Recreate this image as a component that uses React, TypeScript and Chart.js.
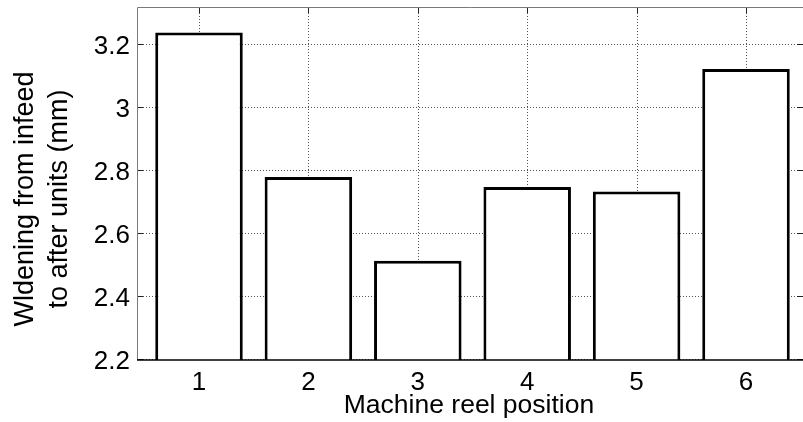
import React, { useEffect, useRef } from "react";
import { Chart, registerables } from "chart.js";

Chart.register(...registerables);

// Machine reel positions and the measured widening for each
const positions = [1, 2, 3, 4, 5, 6];
const widening = [3.237, 2.778, 2.512, 2.746, 2.732, 3.121];
const yTicks = [2.2, 2.4, 2.6, 2.8, 3.0, 3.2];
const yTickLabels = ["2.2", "2.4", "2.6", "2.8", "3", "3.2"];
const xTickLabels = ["1", "2", "3", "4", "5", "6"];
const yTitleLines = ["Wldening from infeed", "to after units (mm)"];
const xTitle = "Machine reel position";

const FONT = '"Liberation Sans", Arial, Helvetica, sans-serif';
const W = 803;
const H = 422;

// Dotted grid, inward tick marks and axis box drawn in MATLAB style
const matlabAxes = {
  id: "matlabAxes",
  beforeDatasetsDraw(chart: any) {
    const { ctx, chartArea: a, scales } = chart;
    const xs = scales.x;
    const ys = scales.y;
    const rightEdge = a.right;
    ctx.save();
    ctx.strokeStyle = "#555";
    ctx.lineWidth = 1;
    ctx.setLineDash([1, 2]);
    for (const v of yTicks) {
      const y = Math.round(ys.getPixelForValue(v)) + 0.5;
      ctx.beginPath();
      ctx.moveTo(a.left, y);
      ctx.lineTo(rightEdge, y);
      ctx.stroke();
    }
    for (const v of positions) {
      const x = Math.round(xs.getPixelForValue(v)) + 0.5;
      ctx.beginPath();
      ctx.moveTo(x, a.top);
      ctx.lineTo(x, a.bottom);
      ctx.stroke();
    }
    ctx.setLineDash([]);
    ctx.strokeStyle = "#222";
    for (const v of yTicks) {
      const y = Math.round(ys.getPixelForValue(v)) + 0.5;
      ctx.beginPath();
      ctx.moveTo(a.left, y);
      ctx.lineTo(a.left + 6, y);
      ctx.moveTo(rightEdge - 6, y);
      ctx.lineTo(rightEdge, y);
      ctx.stroke();
    }
    for (const v of positions) {
      const x = Math.round(xs.getPixelForValue(v)) + 0.5;
      ctx.beginPath();
      ctx.moveTo(x, a.top);
      ctx.lineTo(x, a.top + 6);
      ctx.moveTo(x, a.bottom);
      ctx.lineTo(x, a.bottom - 6);
      ctx.stroke();
    }
    ctx.restore();
  },
  afterDatasetsDraw(chart: any) {
    const { ctx, chartArea: a, scales } = chart;
    const xs = scales.x;
    const ys = scales.y;
    ctx.save();
    // axis box
    ctx.lineWidth = 1;
    ctx.strokeStyle = "#7a7a7a";
    ctx.beginPath();
    ctx.moveTo(a.left + 0.5, a.bottom);
    ctx.lineTo(a.left + 0.5, a.top + 0.5);
    ctx.lineTo(a.right, a.top + 0.5);
    ctx.stroke();
    ctx.strokeStyle = "#000";
    ctx.lineWidth = 1.5;
    ctx.beginPath();
    ctx.moveTo(a.left, a.bottom);
    ctx.lineTo(a.right, a.bottom);
    ctx.stroke();

    // tick labels
    ctx.fillStyle = "#000";
    ctx.font = `26px ${FONT}`;
    ctx.textAlign = "right";
    ctx.textBaseline = "alphabetic";
    yTicks.forEach((v, i) => {
      const y = ys.getPixelForValue(v);
      ctx.fillText(yTickLabels[i], a.left - 7, y + 9.5);
    });
    ctx.textAlign = "center";
    positions.forEach((v, i) => {
      const x = xs.getPixelForValue(v);
      ctx.fillText(xTickLabels[i], x, a.bottom + 30);
    });

    // axis titles
    ctx.font = `26.5px ${FONT}`;
    ctx.fillText(xTitle, 469, a.bottom + 53);
    ctx.font = `27px ${FONT}`;
    const cy = 199;
    ctx.save();
    ctx.translate(33, cy);
    ctx.rotate(-Math.PI / 2);
    ctx.fillText(yTitleLines[0], 0, 0);
    ctx.restore();
    ctx.save();
    ctx.translate(67, cy);
    ctx.rotate(-Math.PI / 2);
    ctx.fillText(yTitleLines[1], 0, 0);
    ctx.restore();
    ctx.restore();
  },
};

export default function App() {
  const ref = useRef<HTMLCanvasElement | null>(null);

  useEffect(() => {
    if (!ref.current) return;
    const chart = new Chart(ref.current, {
      type: "bar",
      data: {
        datasets: [
          {
            data: positions.map((p, i) => ({ x: p, y: widening[i] })),
            backgroundColor: "#ffffff",
            borderColor: "#000000",
            borderWidth: 3,
            borderSkipped: false,
            barPercentage: 0.8,
            categoryPercentage: 1.0,
          },
        ],
      },
      options: {
        animation: false,
        responsive: false,
        maintainAspectRatio: false,
        devicePixelRatio: 1,
        layout: { padding: { top: 7, right: 0, left: 0, bottom: 0 } },
        plugins: {
          legend: { display: false },
          tooltip: { enabled: false },
        },
        scales: {
          x: {
            type: "linear",
            offset: false,
            min: 0.4333,
            max: 6.521,
            ticks: { display: false, stepSize: 1, includeBounds: false },
            grid: { display: false, offset: false },
            border: { display: false },
            afterFit: (s: any) => {
              s.height = 62;
            },
          },
          y: {
            type: "linear",
            min: 2.197,
            max: 3.318,
            ticks: { display: false, stepSize: 0.2, includeBounds: false },
            grid: { display: false },
            border: { display: false },
            afterFit: (s: any) => {
              s.width = 137;
            },
          },
        },
      },
      plugins: [matlabAxes],
    });
    return () => chart.destroy();
  }, []);

  return (
    <div
      style={{
        position: "fixed",
        left: 0,
        top: 0,
        width: W,
        height: H,
        background: "#fff",
      }}
    >
      <canvas ref={ref} width={W} height={H} style={{ width: W, height: H }} />
    </div>
  );
}
